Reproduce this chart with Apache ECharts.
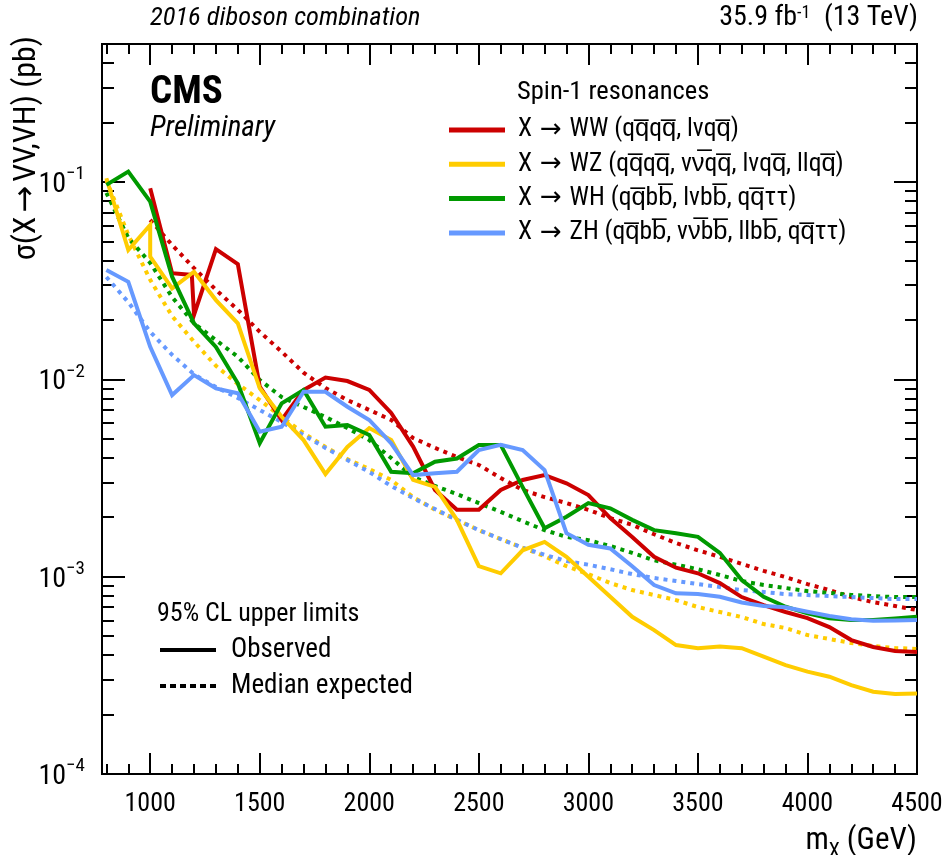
<!DOCTYPE html>
<html><head><meta charset="utf-8">
<script src="https://cdn.jsdelivr.net/npm/echarts@6/dist/echarts.min.js"></script>
<style>html,body{margin:0;padding:0;background:#fff}#c{width:946px;height:855px}</style>
</head><body><div id="c"></div>
<script>
const FF = "'Roboto Condensed', 'Liberation Sans', Arial, sans-serif";
const FA = "'DejaVu Sans', sans-serif";

// ---- tick labels ----
const xMajor = [1000, 1500, 2000, 2500, 3000, 3500, 4000, 4500];
const yMajor = [1e-4, 1e-3, 1e-2, 1e-1];
const yExpLabels = ['\u22124', '\u22123', '\u22122', '\u22121'];

// ---- mass points (GeV) ----
const massFull = [800,900,1000,1100,1200,1300,1400,1500,1600,1700,1800,1900,2000,2100,2200,2300,2400,2500,2600,2700,2800,2900,3000,3100,3200,3300,3400,3500,3600,3700,3800,3900,4000,4100,4200,4300,4400,4500];
const massWW = [1000,1100,1200,1300,1400,1500,1600,1700,1800,1900,2000,2100,2200,2300,2400,2500,2600,2700,2800,2900,3000,3100,3200,3300,3400,3500,3600,3700,3800,3900,4000,4100,4200,4300,4400,4500];
const massWWobs = [1000,1100,1190,1200,1300,1400,1500,1600,1700,1800,1900,2000,2100,2200,2300,2400,2500,2600,2700,2800,2900,3000,3100,3200,3300,3400,3500,3600,3700,3800,3900,4000,4100,4200,4300,4400,4500];
const massWZobs = [800,900,1000,1000,1100,1200,1300,1400,1500,1600,1700,1800,1900,2000,2100,2200,2300,2400,2500,2600,2700,2800,2900,3000,3100,3200,3300,3400,3500,3600,3700,3800,3900,4000,4100,4200,4300,4400,4500];

// ---- limits (pb) ----
const wwObs = [0.0929,0.0345,0.0338,0.0212,0.0457,0.0383,0.00918,0.00622,0.00883,0.0102,0.0098,0.00883,0.00675,0.00456,0.00275,0.00218,0.00218,0.00275,0.00309,0.00327,0.00297,0.00259,0.00198,0.00159,0.00126,0.00111,0.00104,0.000928,0.000788,0.000718,0.000662,0.000617,0.000555,0.000477,0.00044,0.00042,0.000415];
const wwExp = [0.0642,0.0479,0.0366,0.0284,0.0225,0.0174,0.0138,0.0108,0.00903,0.00785,0.00699,0.00622,0.00504,0.00449,0.00404,0.00368,0.00316,0.00275,0.00253,0.00236,0.00218,0.00198,0.00183,0.00164,0.00148,0.00136,0.00126,0.00116,0.00107,0.000995,0.000917,0.000855,0.000788,0.000743,0.00071,0.000677];
const wzObs = [0.1044,0.0452,0.0605,0.0418,0.0289,0.0351,0.0252,0.0192,0.009,0.00646,0.00492,0.00331,0.00454,0.00566,0.00492,0.00309,0.00285,0.00194,0.00113,0.00104,0.00136,0.0015,0.00126,0.000999,0.000791,0.000626,0.000536,0.00045,0.000434,0.000442,0.000434,0.000393,0.000356,0.00033,0.000311,0.000282,0.000261,0.000254,0.000256];
const wzExp = [0.1024,0.0539,0.0319,0.0209,0.0155,0.0117,0.00947,0.00785,0.00644,0.00534,0.00454,0.00394,0.00351,0.00309,0.00253,0.00218,0.00194,0.00172,0.00155,0.0014,0.00127,0.00113,0.00103,0.000928,0.000855,0.000807,0.000761,0.000701,0.000662,0.000624,0.000575,0.000549,0.000506,0.000483,0.000461,0.000445,0.000435,0.00043];
const whObs = [0.0966,0.1128,0.0795,0.0331,0.0192,0.0146,0.00954,0.00474,0.00755,0.00883,0.00575,0.00587,0.00522,0.0034,0.00334,0.00382,0.00397,0.00465,0.00465,0.00284,0.00176,0.00201,0.00236,0.00222,0.00194,0.00172,0.00166,0.00159,0.00132,0.000961,0.000791,0.000704,0.000652,0.000616,0.000603,0.000603,0.000614,0.000626];
const whExp = [0.088,0.052,0.0389,0.0261,0.0192,0.0158,0.013,0.00992,0.00813,0.00724,0.00644,0.00566,0.00492,0.00399,0.0032,0.00288,0.00262,0.00236,0.00213,0.00191,0.00172,0.00159,0.00153,0.00143,0.00132,0.00121,0.00115,0.00109,0.00102,0.00095,0.000907,0.000876,0.000845,0.000827,0.000807,0.000797,0.000788,0.000788];
const zhObs = [0.0358,0.0312,0.0146,0.00832,0.0105,0.009,0.00849,0.00542,0.00575,0.00865,0.00865,0.00726,0.00622,0.00474,0.00327,0.00334,0.0034,0.00438,0.00465,0.00438,0.00347,0.00166,0.00145,0.00139,0.00113,0.000907,0.000823,0.000816,0.000791,0.00074,0.00071,0.0007,0.000664,0.000632,0.000608,0.000598,0.000599,0.000603];
const zhExp = [0.033,0.0246,0.0174,0.0133,0.0106,0.00914,0.00804,0.00699,0.00607,0.00522,0.00449,0.0039,0.00339,0.00288,0.0025,0.0022,0.00194,0.00172,0.00155,0.0014,0.00129,0.0012,0.00115,0.00109,0.00103,0.000984,0.00095,0.000917,0.000886,0.000855,0.000836,0.000816,0.000807,0.000797,0.000788,0.000779,0.00077,0.00077];

// ---- names / colours ----
const OL = '\u0305';
const names = [
  'X \u2192 WW (qq' + OL + 'qq' + OL + ', l\u03BDqq' + OL + ')',
  'X \u2192 WZ (qq' + OL + 'qq' + OL + ', \u03BD\u03BD' + OL + 'qq' + OL + ', l\u03BDqq' + OL + ', llqq' + OL + ')',
  'X \u2192 WH (qq' + OL + 'bb' + OL + ', l\u03BDbb' + OL + ', qq' + OL + '\u03C4\u03C4)',
  'X \u2192 ZH (qq' + OL + 'bb' + OL + ', \u03BD\u03BD' + OL + 'bb' + OL + ', llbb' + OL + ', qq' + OL + '\u03C4\u03C4)'
];
const colors = ['#cc0000', '#ffcc00', '#009900', '#6699ff'];

// minor tick positions
const xMinor = [];
for (let m = 800; m <= 4500; m += 100) if (m % 500 !== 0) xMinor.push(m);
const yMinor = [];
yMajor.forEach(d => { for (let k = 2; k <= 9; k++) { const v = +(k * d).toPrecision(3); if (v < 0.5) yMinor.push(v); } });

function pairs(xs, ys) { return xs.map((x, i) => [x, ys[i]]); }
function line(name, xs, ys, color, dotted) {
  return {
    type: 'line', name: name, xAxisIndex: 0, yAxisIndex: 0,
    data: pairs(xs, ys), symbol: 'none', showSymbol: false, silent: true,
    lineStyle: { color: color, width: 4, type: dotted ? [4, 5] : 'solid', cap: 'butt', join: 'miter' },
    itemStyle: { color: color }, z: dotted ? 2 : 3, clip: true
  };
}

function xAx(pos, ticks, len, labels) {
  return {
    type: 'value', min: 780, max: 4500, position: pos,
    axisLine: { show: true, onZero: false, lineStyle: { color: '#000', width: 2 } },
    axisTick: { show: true, inside: true, length: len, customValues: ticks, lineStyle: { color: '#000', width: 2 } },
    axisLabel: labels ? { show: true, customValues: ticks, fontSize: 26, fontFamily: FF, color: '#000', margin: 17,
      formatter: v => String(v) } : { show: false },
    splitLine: { show: false }
  };
}
function yAx(pos, ticks, len, labels) {
  return {
    type: 'log', logBase: 10, min: 1e-4, max: 0.5, position: pos,
    axisLine: { show: true, onZero: false, lineStyle: { color: '#000', width: 2 } },
    axisTick: { show: true, inside: true, length: len, customValues: ticks, lineStyle: { color: '#000', width: 2 } },
    axisLabel: labels ? {
      show: true, customValues: ticks, margin: 17,
      formatter: function (v) {
        const i = yMajor.findIndex(m => Math.abs(Math.log10(m) - Math.log10(v)) < 1e-6);
        return '{b|10}{s|' + yExpLabels[i] + '}';
      },
      rich: {
        b: { fontSize: 28, fontFamily: FF, color: '#000', lineHeight: 34, verticalAlign: 'bottom' },
        s: { fontSize: 19, fontFamily: FF, color: '#000', lineHeight: 19, verticalAlign: 'top' }
      }
    } : { show: false },
    splitLine: { show: false }
  };
}

const series = [
  line(names[0] + ' exp', massWW, wwExp, colors[0], true),
  line(names[1] + ' exp', massFull, wzExp, colors[1], true),
  line(names[2] + ' exp', massFull, whExp, colors[2], true),
  line(names[3] + ' exp', massFull, zhExp, colors[3], true),
  line(names[0], massWWobs, wwObs, colors[0], false),
  line(names[1], massWZobs, wzObs, colors[1], false),
  line(names[2], massFull, whObs, colors[2], false),
  line(names[3], massFull, zhObs, colors[3], false),
  { type: 'line', name: 'Observed', data: [], itemStyle: { color: '#000' }, lineStyle: { color: '#000' } },
  { type: 'line', name: 'Median expected', data: [], itemStyle: { color: '#000' }, lineStyle: { color: '#000' } }
];

const dotIcon = 'path://M0,0h6v4h-6z M10,0h6v4h-6z M20,0h6v4h-6z M30,0h6v4h-6z M40,0h6v4h-6z M50,0h6v4h-6z';
const txt = { fontFamily: FF, color: '#000', fontWeight: 'normal' };
const arrowRich = { a: { fontFamily: FA, fontSize: 26, color: '#000', padding: [0, 2, 0, 2] } };

const option = {
  animation: false,
  backgroundColor: '#fff',
  grid: { left: 102, top: 44, right: 29, bottom: 81, containLabel: false, outerBoundsMode: 'none' },
  xAxis: [
    Object.assign(xAx('bottom', xMajor, 21, true), {
      name: 'm{sub|X} (GeV)', nameLocation: 'end', nameGap: 0,
      nameTextStyle: {
        align: 'right', verticalAlign: 'top', padding: [46, 0, 0, 0],
        fontSize: 31, fontFamily: FF, color: '#000',
        rich: { sub: { fontSize: 20, fontFamily: FF, color: '#000', verticalAlign: 'bottom', lineHeight: 42 } }
      }
    }),
    xAx('bottom', xMinor, 10, false),
    xAx('top', xMajor, 21, false),
    xAx('top', xMinor, 10, false)
  ],
  yAxis: [
    yAx('left', yMajor, 23, true),
    yAx('left', yMinor, 12, false),
    yAx('right', yMajor, 23, false),
    yAx('right', yMinor, 12, false)
  ],
  title: [
    { text: '2016 diboson combination', left: 150, top: 5, padding: 0, textStyle: Object.assign({}, txt, { fontStyle: 'italic', fontSize: 26.5 }) },
    { text: '35.9 fb{s|-1} (13 TeV)', right: 28, top: 4, padding: 0,
      textStyle: Object.assign({}, txt, { fontSize: 28, rich: { s: { fontSize: 18, fontFamily: FF, color: '#000', verticalAlign: 'top', lineHeight: 18, padding: [0, 7, 0, 0] } } }) },
    { text: 'CMS', left: 150, top: 74, padding: 0, textStyle: Object.assign({}, txt, { fontWeight: 'bold', fontSize: 39 }) },
    { text: 'Preliminary', left: 150, top: 114, padding: 0, textStyle: Object.assign({}, txt, { fontStyle: 'italic', fontSize: 29 }) },
    { text: 'Spin-1 resonances', left: 517, top: 79, padding: 0, textStyle: Object.assign({}, txt, { fontSize: 26.5 }) },
    { text: '95% CL upper limits', left: 157, top: 601, padding: 0, textStyle: Object.assign({}, txt, { fontSize: 26 }) }
  ],
  legend: [
    {
      data: names.map(n => ({ name: n, icon: 'rect' })),
      left: 449, top: 115, orient: 'vertical', padding: 0,
      itemWidth: 56, itemHeight: 5, itemGap: 4.3, selectedMode: false,
      formatter: n => n.replace('\u2192', '{a|\u2192}'),
      textStyle: Object.assign({}, txt, { fontSize: 25.5, lineHeight: 30, padding: [0, 0, 0, 8], rich: arrowRich })
    },
    {
      data: [{ name: 'Observed', icon: 'rect' }, { name: 'Median expected', icon: dotIcon }],
      left: 160, top: 635, orient: 'vertical', padding: 0,
      itemWidth: 56, itemHeight: 4, itemGap: 6, selectedMode: false,
      textStyle: Object.assign({}, txt, { fontSize: 27, lineHeight: 30, padding: [0, 0, 0, 10] })
    }
  ],
  graphic: [
    { type: 'text', x: 27, y: 36, rotation: Math.PI / 2, silent: true,
      style: { text: '\u03C3(X{a|\u2192}VV,VH) (pb)', fontSize: 32, fontFamily: FF, fill: '#000', align: 'right', verticalAlign: 'middle',
        rich: { a: { fontFamily: FA, fontSize: 32, fill: '#000', padding: [0, 4, 0, 4] } } } }
  ],
  series: series
};

const chart = echarts.init(document.getElementById('c'), null, { renderer: 'canvas' });
chart.setOption(option);
</script>
</body></html>
